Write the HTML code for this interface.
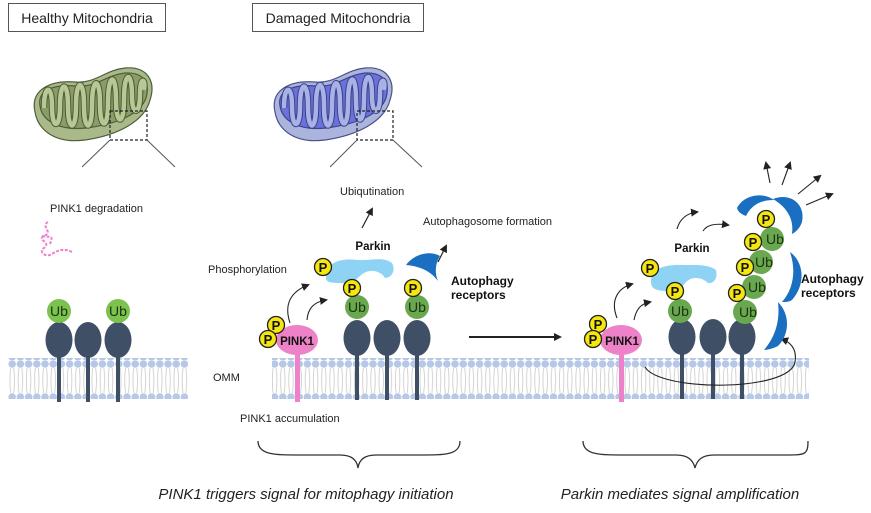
<!DOCTYPE html>
<html><head><meta charset="utf-8"><style>
html,body{margin:0;padding:0;background:#fff;}
svg{display:block;font-family:"Liberation Sans",sans-serif;}
</style></head><body>
<svg width="871" height="513" viewBox="0 0 871 513" xmlns="http://www.w3.org/2000/svg">
<defs>
<pattern id="mem" x="0" y="0" width="8.2" height="40" patternUnits="userSpaceOnUse">
<circle cx="4" cy="4" r="3.8" fill="#b7c8e6"/>
<circle cx="4" cy="37" r="3.8" fill="#b7c8e6"/>
<path d="M2.5 8 Q1 20 2.5 33 M5.5 8 Q7 20 5.5 33" stroke="#c9c9c9" stroke-width="0.8" fill="none"/>
</pattern>
<marker id="ah" markerWidth="8" markerHeight="8" refX="6" refY="4" orient="auto" markerUnits="userSpaceOnUse">
<path d="M0,0 L8,4 L0,8 z" fill="#222"/>
</marker>
<g id="pp"><circle r="8.5" fill="#f5e60f" stroke="#222" stroke-width="1.3"/><text y="5" text-anchor="middle" font-size="13" font-weight="bold" fill="#111">P</text></g>
<g id="ub"><circle r="12" fill="#6aa84f"/><text y="5" text-anchor="middle" font-size="14" fill="#1b3311">Ub</text></g>
<g id="ubr"><circle r="12" fill="#6aa84f"/><text x="3" y="5" text-anchor="middle" font-size="14" fill="#1b3311">Ub</text></g>
<g id="prot"><rect x="-2" y="0" width="4" height="62" fill="#3f4f66"/><ellipse cx="0" cy="0" rx="13.5" ry="18" fill="#3f4f66"/></g>
<g id="ubl"><circle r="12" fill="#7cc24f"/><text y="5" text-anchor="middle" font-size="14" fill="#1b3311">Ub</text></g>
<g id="cri">
<path d="M44,108 C44,84 52,84 52,106 C52,130 60,130 60,106 C60,80 68,80 68,106 C68,132 76,132 76,106 C76,78 84,78 84,106 C84,132 92,132 92,106 C92,76 100,76 100,104 C100,130 108,130 108,104 C108,72 116,72 116,100 C116,126 124,126 124,100 C124,70 132,70 132,96 C132,116 140,116 140,94 C140,76 146,78 144,90" fill="none"/>
</g>
</defs>

<!-- titles -->
<rect x="8.5" y="3.5" width="157" height="28" fill="#fff" stroke="#555"/>
<text x="87" y="23" text-anchor="middle" font-size="14" fill="#222">Healthy Mitochondria</text>
<rect x="252.5" y="3.5" width="171" height="28" fill="#fff" stroke="#555"/>
<text x="338" y="23" text-anchor="middle" font-size="14" fill="#222">Damaged Mitochondria</text>

<!-- healthy mito -->
<g>
<path d="M35,112 C30,90 50,80 75,82 C95,84 105,70 125,68 C148,66 156,82 150,100 C145,120 120,135 85,140 C55,144 38,130 35,112z" fill="#a9b98a" stroke="#4f5e3a" stroke-width="1.2"/>
<path d="M40,106 C37,90 54,84 76,86 C96,88 106,75 125,73 C145,72 150,84 146,98 C140,114 118,124 86,128 C58,131 42,120 40,106z" fill="#8a9c68" stroke="#4f5e3a" stroke-width="1.2"/>
<use href="#cri" stroke="#4a5934" stroke-width="6.5"/>
<use href="#cri" stroke="#b8c894" stroke-width="4.5"/>
</g>
<rect x="110" y="111" width="37" height="29" fill="none" stroke="#222" stroke-width="1.2" stroke-dasharray="3,2"/>
<line x1="110" y1="140" x2="82" y2="167" stroke="#555"/><line x1="147" y1="140" x2="175" y2="167" stroke="#555"/>

<!-- damaged mito -->
<g transform="translate(240,0)">
<path d="M35,112 C30,90 50,80 75,82 C95,84 105,70 125,68 C148,66 156,82 150,100 C145,120 120,135 85,140 C55,144 38,130 35,112z" fill="#aab4dc" stroke="#4a5388" stroke-width="1.2"/>
<path d="M40,106 C37,90 54,84 76,86 C96,88 106,75 125,73 C145,72 150,84 146,98 C140,114 118,124 86,128 C58,131 42,120 40,106z" fill="#6a71d8" stroke="#3f4590" stroke-width="1.2"/>
<use href="#cri" stroke="#3a3f88" stroke-width="6.5"/>
<use href="#cri" stroke="#a9b2e6" stroke-width="4.5"/>
</g>
<rect x="357" y="111" width="36" height="29" fill="none" stroke="#222" stroke-width="1.2" stroke-dasharray="3,2"/>
<line x1="357" y1="140" x2="330" y2="167" stroke="#555"/><line x1="393" y1="140" x2="422" y2="167" stroke="#555"/>

<!-- membranes -->
<rect x="8" y="358" width="180" height="41" fill="url(#mem)"/>
<rect x="272" y="358" width="537" height="41" fill="url(#mem)"/>

<!-- left -->
<text x="50" y="212" font-size="11" fill="#222">PINK1 degradation</text>
<path d="M48,222 c-8,4 6,10 -4,14 c-8,4 8,6 0,12 c-6,4 2,10 8,6 c6,-4 12,-6 20,-2 M42,236 c8,2 12,-2 8,8" fill="none" stroke="#ee7fd2" stroke-width="2" stroke-dasharray="3,1.5"/>
<use href="#prot" x="59" y="340"/><use href="#prot" x="88" y="340"/><use href="#prot" x="118" y="340"/>
<use href="#ubl" x="59" y="311"/><use href="#ubl" x="118" y="311"/>

<!-- middle -->
<text x="340" y="195" font-size="11" fill="#222">Ubiqutination</text>
<line x1="362" y1="228" x2="372" y2="209" stroke="#222" stroke-width="1.2" marker-end="url(#ah)"/>
<text x="423" y="225" font-size="11" fill="#222">Autophagosome formation</text>
<line x1="438" y1="262" x2="446" y2="246" stroke="#222" stroke-width="1.2" marker-end="url(#ah)"/>
<text x="373" y="250" text-anchor="middle" font-size="11.5" font-weight="bold" fill="#111">Parkin</text>
<text x="208" y="273" font-size="11" fill="#222">Phosphorylation</text>
<text x="451" y="285" font-size="12" font-weight="bold" fill="#111">Autophagy</text>
<text x="451" y="299" font-size="12" font-weight="bold" fill="#111">receptors</text>
<text x="213" y="381" font-size="11" fill="#222">OMM</text>
<text x="240" y="422" font-size="11" fill="#222">PINK1 accumulation</text>
<rect x="295" y="340" width="5" height="62" fill="#ee82c8"/>
<ellipse cx="297" cy="340" rx="21" ry="15" fill="#ee82c8"/>
<text x="297" y="345" text-anchor="middle" font-size="11.5" font-weight="bold" fill="#111">PINK1</text>
<use href="#pp" x="276" y="325"/><use href="#pp" x="268" y="339"/>
<path d="M290,323 C284,305 290,292 308,285" fill="none" stroke="#222" stroke-width="1.1" marker-end="url(#ah)"/>
<path d="M307,320 C308,308 314,302 326,300" fill="none" stroke="#222" stroke-width="1.1" marker-end="url(#ah)"/>
<use href="#prot" x="357" y="338"/><use href="#prot" x="387" y="338"/><use href="#prot" x="417" y="338"/>
<path d="M326,278 C326,262 340,258 358,260 C370,261 382,256 392,263 C396,270 392,278 385,278 C380,270 368,268 360,276 C354,282 350,284 340,283 C330,283 326,282 326,278z" fill="#8fd3f4"/>
<use href="#ub" x="357" y="307"/><use href="#ub" x="417" y="307"/>
<use href="#pp" x="352" y="288"/><use href="#pp" x="413" y="288"/>
<use href="#pp" x="323" y="267"/>
<path d="M406,265 C414,254 430,250 440,256 C436,262 434,272 438,281 C430,270 418,266 406,265z" fill="#1a6fc0"/>

<!-- arrow -->
<line x1="469" y1="337" x2="560" y2="337" stroke="#222" stroke-width="2" marker-end="url(#ah)"/>

<!-- right -->
<rect x="619" y="340" width="5" height="62" fill="#ee82c8"/>
<ellipse cx="621" cy="340" rx="21" ry="15" fill="#ee82c8"/>
<text x="622" y="345" text-anchor="middle" font-size="11.5" font-weight="bold" fill="#111">PINK1</text>
<use href="#pp" x="598" y="324"/><use href="#pp" x="593" y="339"/>
<path d="M617,318 C610,300 618,288 632,284" fill="none" stroke="#222" stroke-width="1.1" marker-end="url(#ah)"/>
<path d="M634,320 C636,310 640,304 650,302" fill="none" stroke="#222" stroke-width="1.1" marker-end="url(#ah)"/>
<use href="#prot" x="682" y="337"/><use href="#prot" x="713" y="337"/><use href="#prot" x="742" y="337"/>
<path d="M651,281 C651,268 666,264 684,265 C696,265 708,264 716,270 C718,278 714,284 708,283 C702,277 692,276 686,282 C680,290 674,292 664,291 C654,290 651,288 651,281z" fill="#8fd3f4"/>
<use href="#ub" x="680" y="311"/><use href="#pp" x="675" y="291"/><use href="#pp" x="650" y="268"/>
<text x="692" y="252" text-anchor="middle" font-size="11.5" font-weight="bold" fill="#111">Parkin</text>
<path d="M677,229 C680,218 688,213 697,212" fill="none" stroke="#222" stroke-width="1.1" marker-end="url(#ah)"/>
<path d="M703,231 C707,225 714,223 728,225" fill="none" stroke="#222" stroke-width="1.1" marker-end="url(#ah)"/>
<path d="M645,367 C660,392 790,392 795,362 C797,350 792,343 782,339" fill="none" stroke="#222" stroke-width="1.1" marker-end="url(#ah)"/>
<!-- crescents -->
<path d="M737,208 C744,194 764,192 774,200 C762,200 752,204 746,216 C741,214 738,212 737,208z" fill="#1a6fc0"/>
<path d="M773,199 C790,192 806,204 802,222 C800,228 796,232 792,234 C794,220 788,208 773,199z" fill="#1a6fc0"/>
<path d="M790,252 C804,262 806,284 792,300 C789,302 786,302 782,302 C794,288 796,270 790,252z" fill="#1a6fc0"/>
<path d="M778,302 C790,314 790,334 778,346 C774,348 768,350 764,350 C776,336 780,320 778,302z" fill="#1a6fc0"/>
<use href="#ubr" x="745" y="312"/><use href="#ubr" x="754" y="287"/><use href="#ubr" x="761" y="262"/><use href="#ubr" x="772" y="239"/>
<use href="#pp" x="737" y="293"/><use href="#pp" x="745" y="267"/><use href="#pp" x="753" y="242"/><use href="#pp" x="766" y="219"/>
<text x="801" y="283" font-size="12" font-weight="bold" fill="#111">Autophagy</text>
<text x="801" y="297" font-size="12" font-weight="bold" fill="#111">receptors</text>
<line x1="770" y1="183" x2="766" y2="163" stroke="#222" stroke-width="1.1" marker-end="url(#ah)"/>
<line x1="782" y1="185" x2="790" y2="163" stroke="#222" stroke-width="1.1" marker-end="url(#ah)"/>
<line x1="798" y1="194" x2="820" y2="176" stroke="#222" stroke-width="1.1" marker-end="url(#ah)"/>
<line x1="806" y1="205" x2="832" y2="194" stroke="#222" stroke-width="1.1" marker-end="url(#ah)"/>

<!-- brackets -->
<path d="M258,441 C258,455 275,455 300,455 L340,455 C352,455 357,460 358,468 C359,460 364,455 376,455 L420,455 C445,455 460,455 460,441" fill="none" stroke="#333" stroke-width="1.3"/>
<path d="M583,441 C583,455 600,455 625,455 L676,455 C688,455 693,460 695,468 C697,460 702,455 714,455 L785,455 C805,455 808,455 808,441" fill="none" stroke="#333" stroke-width="1.3"/>
<text x="306" y="499" text-anchor="middle" font-size="15" font-style="italic" fill="#222">PINK1 triggers signal for mitophagy initiation</text>
<text x="680" y="499" text-anchor="middle" font-size="15" font-style="italic" fill="#222">Parkin mediates signal amplification</text>
</svg>
</body></html>
